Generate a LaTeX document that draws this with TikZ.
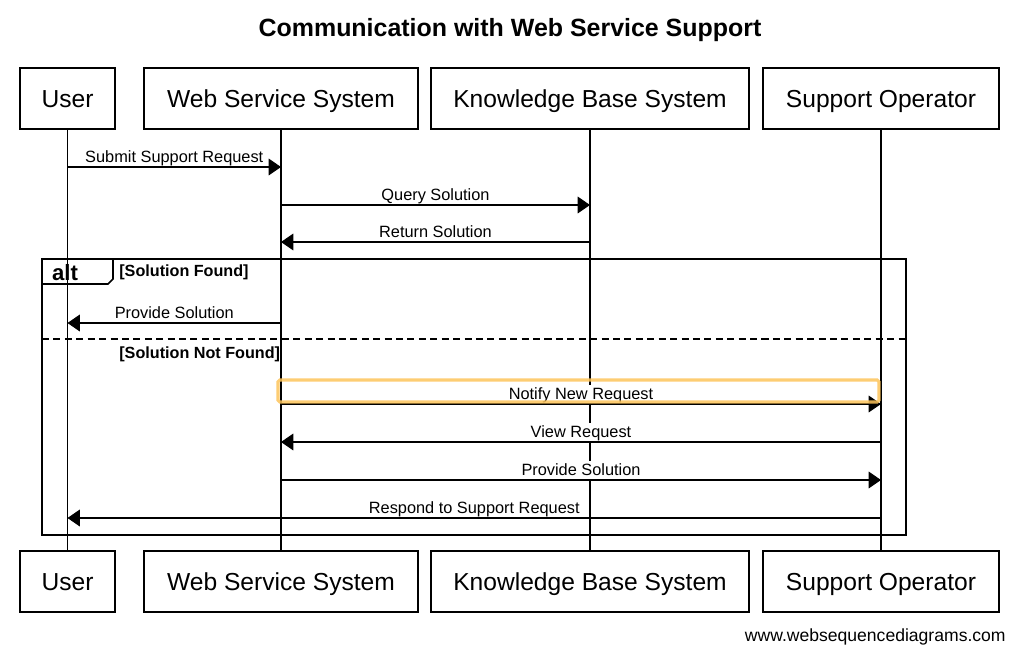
\documentclass[tikz,border=0pt]{standalone}
\usepackage{fontspec}
\setmainfont{Liberation Sans}
\usetikzlibrary{arrows.meta}
\definecolor{hilite}{RGB}{253,196,90}

\begin{document}
\begin{tikzpicture}[
    x=0.02cm, y=-0.02cm,
    actor/.style={draw, line width=.7pt, minimum height=1.22cm, inner sep=0pt,
      text height=10pt, text depth=0pt, font=\fontsize{14}{16}\selectfont},
    life/.style={line width=.6pt},
    msg/.style={line width=.6pt, -{Triangle[length=7pt, width=9.5pt]}},
    lbl/.style={midway, anchor=south, fill=white, inner sep=1.5pt,
      text height=6.8pt, text depth=.7pt, font=\fontsize{9.3}{11}\selectfont},
    guard/.style={anchor=base west, inner sep=0pt, font=\fontsize{9.2}{11}\selectfont\bfseries},
    frame/.style={line width=1.3pt}]

  \useasboundingbox (0,0) rectangle (1019,656);

  \node[anchor=base, font=\fontsize{14.2}{17}\selectfont\bfseries] (title) at (510,36)
    {Communication with Web Service Support};

  % participants, top row
  \node[actor, minimum width=1.9cm]  (userT) at (67.5,98.5) {User};
  \node[actor, minimum width=5.48cm] (webT)  at (281,98.5)  {Web Service System};
  \node[actor, minimum width=6.36cm] (kbT)   at (590,98.5)  {Knowledge Base System};
  \node[actor, minimum width=4.72cm] (supT)  at (881,98.5)  {Support Operator};

  % participants, bottom row
  \node[actor, minimum width=1.9cm]  (userB) at (67.5,581.5) {User};
  \node[actor, minimum width=5.48cm] (webB)  at (281,581.5)  {Web Service System};
  \node[actor, minimum width=6.36cm] (kbB)   at (590,581.5)  {Knowledge Base System};
  \node[actor, minimum width=4.72cm] (supB)  at (881,581.5)  {Support Operator};

  % lifelines
  \draw[life] (userT) -- (userB);
  \draw[life] (webT) -- (webB);
  \draw[life] (kbT) -- (kbB);
  \draw[life] (supT) -- (supB);

  % message rows
  \coordinate (r1) at (0,167);
  \coordinate (r2) at (0,205);
  \coordinate (r3) at (0,242);
  \coordinate (r4) at (0,323);
  \coordinate (r5) at (0,404);
  \coordinate (r6) at (0,442);
  \coordinate (r7) at (0,480);
  \coordinate (r8) at (0,518);

  \draw[msg] (userT |- r1) -- (webT |- r1) node[lbl] {Submit Support Request};
  \draw[msg] (webT |- r2) -- (kbT |- r2) node[lbl] {Query Solution};
  \draw[msg] (kbT |- r3) -- (webT |- r3) node[lbl] {Return Solution};

  % alt fragment
  \draw[frame] (42,259) rectangle (906,535);
  \draw[line width=1pt] (42,284) -- (42,259) -- (113,259) -- (113,279) -- (108,284) -- cycle;
  \node[anchor=base, inner sep=0pt, font=\fontsize{12.6}{14}\selectfont\bfseries] (alt) at (65,280) {alt};
  \node[guard] (g1) at (119,276) {[Solution Found]};
  \draw[msg] (webT |- r4) -- (userT |- r4) node[lbl] {Provide Solution};

  \draw[line width=1.2pt, dash pattern=on 4pt off 2.5pt] (42,339) -- (906,339);
  \node[guard] (g2) at (119,358) {[Solution Not Found]};

  \draw[msg] (webT |- r5) -- (supT |- r5) node[lbl] {Notify New Request};
  \draw[hilite, line width=1.8pt, opacity=.85, rounded corners=1pt] (278,380) rectangle (879,402);
  \draw[msg] (supT |- r6) -- (webT |- r6) node[lbl] {View Request};
  \draw[msg] (webT |- r7) -- (supT |- r7) node[lbl] {Provide Solution};
  \draw[msg] (supT |- r8) -- (userT |- r8) node[lbl] {Respond to Support Request};

  \node[anchor=base east, inner sep=0pt, font=\fontsize{10}{12}\selectfont] (site) at (1006,641)
    {www.websequencediagrams.com};
\end{tikzpicture}
\end{document}
